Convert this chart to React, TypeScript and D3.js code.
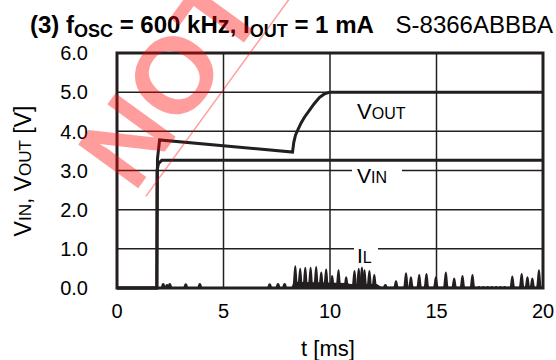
import * as d3 from "d3"

// chart values
const X_TICKS = [0, 5, 10, 15, 20]
const Y_TICKS = [0, 1, 2, 3, 4, 5, 6]

const VIN_T = [0, 1.87, 1.88, 1.95, 2.1, 20]
const VIN_V = [0, 0, 3.0, 3.18, 3.26, 3.26]

const VOUT_T = [0, 1.87, 1.9, 2.0, 8.24, 8.3, 8.38, 8.5, 8.65, 8.8, 9.04, 9.25, 9.5, 9.75, 10.0, 20]
const VOUT_V = [0, 0, 3.3, 3.78, 3.47, 3.72, 3.9, 4.05, 4.22, 4.36, 4.54, 4.7, 4.86, 4.96, 5.0, 5.0]

// IL: ripple peaks and the filled floor under the dense part
const IL_PEAK_T = [
  2.17, 2.35, 2.48, 3.23, 3.89, 7.17, 7.56, 7.87,
  8.37, 8.6, 8.84, 9.09, 9.35, 9.59, 9.82, 10.1, 10.4, 10.76,
  11.15, 11.35, 11.5, 11.62, 11.85, 12.08, 12.6, 13.1, 13.57, 13.8, 14.19, 14.53, 14.97,
  15.44, 15.83, 16.22, 16.69,
  17.0, 17.2, 17.4, 17.6, 17.8, 18.0, 18.2,
  18.56, 19.0, 19.27, 19.5, 19.81,
]
const IL_PEAK_V = [
  0.13, 0.1, 0.13, 0.12, 0.13, 0.12, 0.13, 0.13,
  0.58, 0.52, 0.54, 0.54, 0.56, 0.42, 0.5, 0.33, 0.48, 0.3,
  0.46, 0.52, 0.55, 0.48, 0.46, 0.36, 0.1, 0.2, 0.4, 0.3, 0.36, 0.38, 0.3,
  0.42, 0.27, 0.33, 0.36,
  0.05, 0.05, 0.05, 0.05, 0.05, 0.05, 0.05,
  0.32, 0.38, 0.3, 0.27, 0.48,
]
const IL_FLOOR_T = [1.9, 8.2, 8.3, 10.8, 10.95, 12.2, 12.4, 20]
const IL_FLOOR_V = [0.02, 0.02, 0.16, 0.13, 0.1, 0.1, 0.03, 0.03]

const W = 556
const H = 360
const M = { left: 117, right: 543, top: 53, bottom: 288 }
const INK = "#231f20"
const FONT = "'Liberation Sans', Arial, sans-serif"

export default function App() {
  const x = d3.scaleLinear().domain([0, 20]).range([M.left, M.right])
  const y = d3.scaleLinear().domain([0, 6]).range([M.bottom, M.top])

  const line = d3.line<[number, number]>().x((d) => x(d[0])).y((d) => y(d[1]))
  const vin = line(VIN_T.map((t, i) => [t, VIN_V[i]]))
  const vout = line(VOUT_T.map((t, i) => [t, VOUT_V[i]]))
  const floor = d3.area<[number, number]>()
    .x((d) => x(d[0]))
    .y0(y(0))
    .y1((d) => y(d[1]))(IL_FLOOR_T.map((t, i) => [t, IL_FLOOR_V[i]]))

  // one rounded hump per ripple peak
  function bump(t: number, v: number) {
    const cx = x(t), b = y(0), top = y(v)
    const w = v < 0.08 ? 2 : 3.2
    return `M${cx - w},${b} C${cx - w * 0.55},${b} ${cx - w * 0.65},${top} ${cx},${top}` +
      ` C${cx + w * 0.65},${top} ${cx + w * 0.55},${b} ${cx + w},${b} Z`
  }

  return (
    <div style={{ position: "absolute", left: 0, top: 0 }}>
      <svg width={W} height={H} style={{ display: "block", fontFamily: FONT }}>
        <rect width={W} height={H} fill="#fff" />

        {/* title */}
        <text x={30} y={33} fontSize={24} fontWeight="bold" fill="#000">
          (3) f<tspan fontSize={18} dy={4}>OSC</tspan>
          <tspan dy={-4}> = 600 kHz, I</tspan>
          <tspan fontSize={18} dy={4}>OUT</tspan>
          <tspan dy={-4}> = 1 mA</tspan>
        </text>
        <text x={553} y={33} fontSize={24} textAnchor="end" fill="#000">S-8366ABBBA</text>

        {/* grid */}
        {X_TICKS.slice(1, -1).map((t) => (
          <line key={"gx" + t} x1={x(t)} x2={x(t)} y1={M.top} y2={M.bottom} stroke={INK} strokeWidth={1.5} />
        ))}
        {Y_TICKS.slice(1, -1).map((t) => (
          <line key={"gy" + t} x1={M.left} x2={M.right} y1={y(t)} y2={y(t)} stroke={INK} strokeWidth={1.5} />
        ))}

        {/* series */}
        <path d={floor ?? ""} fill={INK} />
        {IL_PEAK_T.map((t, i) => <path key={"b" + i} d={bump(t, IL_PEAK_V[i])} fill={INK} />)}
        <path d={vin ?? ""} fill="none" stroke={INK} strokeWidth={3} />
        <path d={vout ?? ""} fill="none" stroke={INK} strokeWidth={3} />

        {/* frame */}
        <rect x={M.left} y={M.top} width={M.right - M.left} height={M.bottom - M.top}
          fill="none" stroke={INK} strokeWidth={3} />

        {/* in-plot labels */}
        <rect x={352} y={163} width={50} height={21} fill="#fff" />
        <text x={357} y={183} fontSize={21} fill="#000">V<tspan fontSize={16}>IN</tspan></text>
        <text x={357} y={119} fontSize={22} fill="#000">V<tspan fontSize={16}>OUT</tspan></text>
        <rect x={354} y={243} width={24} height={18} fill="#fff" />
        <text x={357} y={263} fontSize={21} fill="#000">I<tspan fontSize={16}>L</tspan></text>

        {/* axes labels */}
        {Y_TICKS.map((t) => (
          <text key={"ty" + t} x={88} y={y(t)} dy="0.36em" fontSize={20} textAnchor="end" fill="#000">
            {t.toFixed(1)}
          </text>
        ))}
        {X_TICKS.map((t) => (
          <text key={"tx" + t} x={x(t)} y={318} fontSize={20} textAnchor="middle" fill="#000">{t}</text>
        ))}
        <text x={328} y={356} fontSize={22} textAnchor="middle" fill="#000">t [ms]</text>
        <text transform="translate(31,171) rotate(-90)" fontSize={23} textAnchor="middle" fill="#000">
          V<tspan fontSize={17}>IN</tspan>, V<tspan fontSize={17}>OUT</tspan> [V]
        </text>

        {/* watermark */}
        <g transform="translate(134,194) rotate(-54)" opacity={0.38}>
          <text x={0} y={0} fontSize={108} fontWeight="bold" fill="#ff0000">NOT RECOMMENDED FOR NEW DESIGN</text>
          <line x1={5} x2={1400} y1={11} y2={11} stroke="#ff0000" strokeWidth={1.5} />
        </g>
      </svg>
    </div>
  )
}
